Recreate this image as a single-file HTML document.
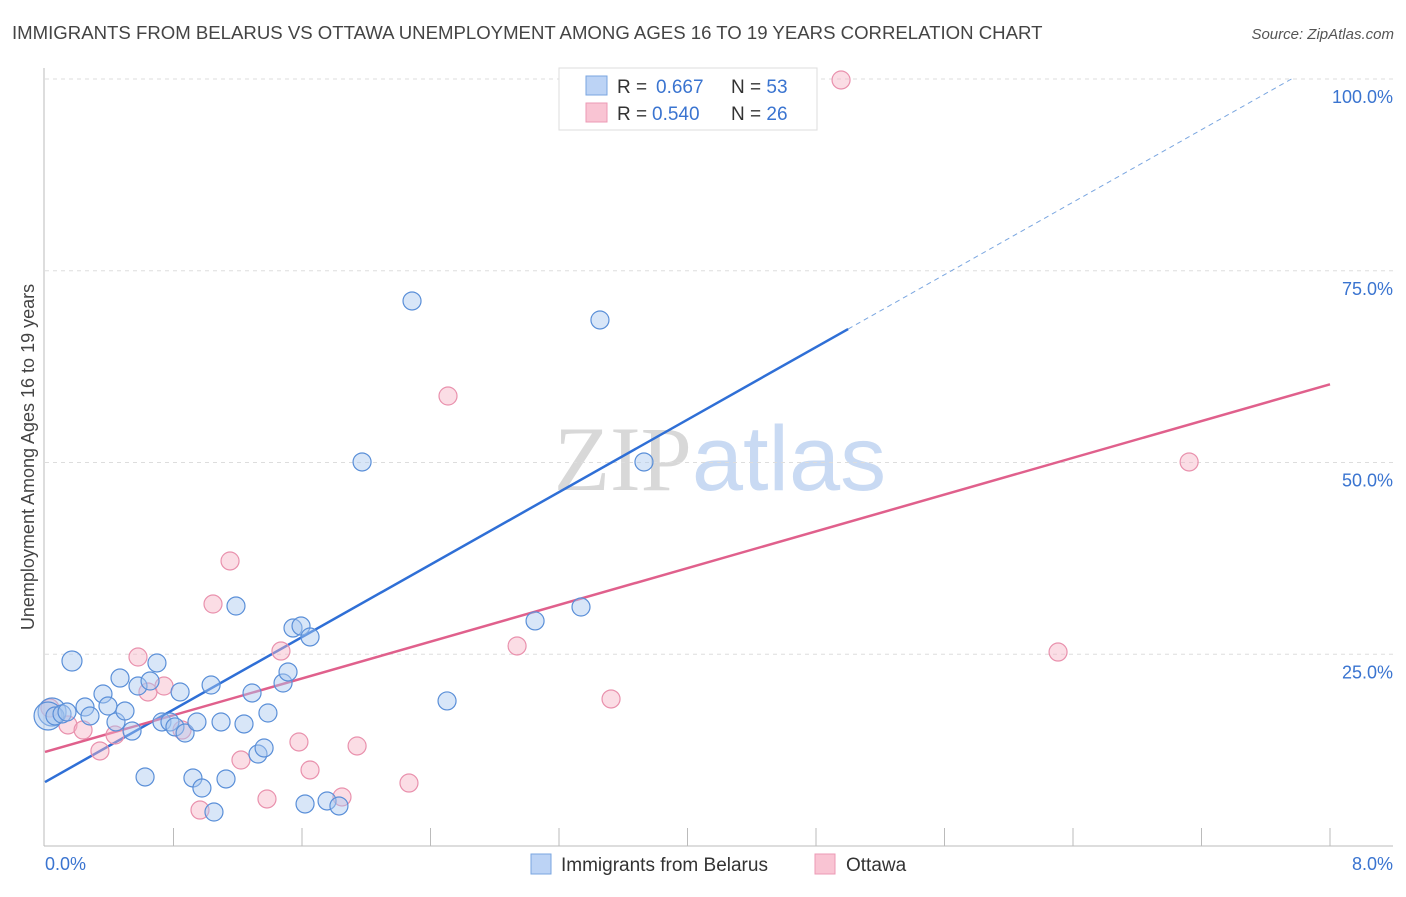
<!DOCTYPE html>
<html><head><meta charset="utf-8"><style>
body{margin:0;background:#fff;font-family:"Liberation Sans",sans-serif}
svg text{font-family:"Liberation Sans",sans-serif}
</style></head><body>
<svg id="c" width="1406" height="892" xmlns="http://www.w3.org/2000/svg">
<text x="12" y="39" font-size="18.6" fill="#444">IMMIGRANTS FROM BELARUS VS OTTAWA UNEMPLOYMENT AMONG AGES 16 TO 19 YEARS CORRELATION CHART</text>
<text x="1394" y="39" font-size="15" fill="#555" text-anchor="end" font-style="italic">Source: ZipAtlas.com</text>
<text x="720" y="490" font-size="92" text-anchor="middle"><tspan font-family="Liberation Serif" fill="#d8d8d8">ZIP</tspan><tspan fill="#c9daf3">atlas</tspan></text>
<text transform="translate(34,457) rotate(-90)" font-size="18" fill="#444" text-anchor="middle">Unemployment Among Ages 16 to 19 years</text>
<g id="grid"></g><g id="lines"></g><g id="pts"></g>
<g>
<rect x="559" y="68" width="258" height="62" fill="#fff" stroke="#ddd"/>
<rect x="586" y="76" width="21" height="19" fill="#bcd3f5" stroke="#7aa6e0"/>
<rect x="586" y="103" width="21" height="19" fill="#f9c4d3" stroke="#ec9ab4"/>
<text x="617" y="93" font-size="19" fill="#333">R = <tspan x="656" fill="#3a74d0">0.667</tspan><tspan x="731">N = </tspan><tspan fill="#3a74d0">53</tspan></text>
<text x="617" y="120" font-size="19" fill="#333">R = <tspan x="652" fill="#3a74d0">0.540</tspan><tspan x="731">N = </tspan><tspan fill="#3a74d0">26</tspan></text>
</g>
<g>
<rect x="531" y="854" width="20" height="20" fill="#bcd3f5" stroke="#7aa6e0"/>
<text x="561" y="871" font-size="19" fill="#333">Immigrants from Belarus</text>
<rect x="815" y="854" width="20" height="20" fill="#f9c4d3" stroke="#ec9ab4"/>
<text x="846" y="871" font-size="19" fill="#333">Ottawa</text>
</g>
</svg>
<script>
const xTickLabels=["0.0%","8.0%"];
const yTicks=[25,50,75,100];
const blueX=[0.044,0.019,0.062,0.106,0.168,0.137,0.249,0.280,0.361,0.392,0.442,0.467,0.498,0.542,0.579,0.623,0.654,0.697,0.728,0.778,0.809,0.841,0.872,0.921,0.946,0.977,1.034,1.052,1.096,1.127,1.189,1.239,1.289,1.326,1.364,1.388,1.482,1.513,1.544,1.594,1.619,1.650,1.756,1.830,1.974,2.285,2.503,3.051,3.337,3.455,3.729,4.340];
const blueY=[17.47,16.95,16.95,17.21,24.12,17.47,18.12,16.95,19.82,18.25,16.17,21.90,17.60,14.99,20.86,9.00,21.51,23.86,16.17,16.17,15.52,20.08,14.73,8.87,16.17,7.56,20.99,4.43,16.17,8.74,31.29,15.91,19.95,11.99,12.78,17.34,21.25,22.69,28.42,28.68,5.48,27.25,5.87,5.22,50.07,71.06,18.91,29.34,31.16,68.58,50.07,99.87];
const blueR=[14,14,9,9,10,9,9,9,9,9,9,9,9,9,9,9,9,9,9,9,9,9,9,9,9,9,9,9,9,9,9,9,9,9,9,9,9,9,9,9,9,9,9,9,9,9,9,9,9,9,9,9];
const pinkX=[0.031,0.143,0.237,0.342,0.436,0.579,0.641,0.741,0.853,0.965,1.046,1.152,1.220,1.382,1.469,1.581,1.650,1.849,1.943,2.266,2.509,2.939,3.524,4.956,6.307,7.123];
const pinkY=[17.99,15.78,15.12,12.39,14.47,24.64,20.08,20.86,15.12,4.69,31.55,37.16,11.21,6.13,25.42,13.56,9.91,6.39,13.04,8.21,58.67,26.08,19.17,99.87,25.29,50.07];
const blueTrend=[8.34,67.4];   // y at x=0 and x=5
const pinkTrend=[12.26,60.2];  // y at x=0 and x=8
const NS="http://www.w3.org/2000/svg";
const X=v=>45+v/8*1285, Y=v=>846-v*7.67;
function mk(tag,attrs,parent){const e=document.createElementNS(NS,tag);for(const k in attrs)e.setAttribute(k,attrs[k]);parent.appendChild(e);return e;}
const g=document.getElementById('grid');
yTicks.forEach(t=>{
 const l=mk('line',{x1:45,x2:1393,y1:Y(t),y2:Y(t),stroke:'#ddd','stroke-dasharray':'4,4'},g);
 
 
 const tx=mk('text',{x:1393,y:Y(t)+24,'font-size':18,fill:'#3a74d0','text-anchor':'end'},g);
 tx.textContent=t.toFixed(1)+'%';
 
 
});
const ax=mk('line',{x1:44,x2:44,y1:68,y2:846,stroke:'#bbb'},g);


const bx=mk('line',{x1:44,x2:1393,y1:846,y2:846,stroke:'#bbb'},g);


for(let i=1;i<=10;i++){const t=mk('line',{x1:X(i*0.8),x2:X(i*0.8),y1:828,y2:846,stroke:'#bbb'},g);
 
 }
[[0,'start',45],[1,'end',1393]].forEach(([i,a,x])=>{const t=mk('text',{x:x,y:870,'font-size':18,fill:'#3a74d0','text-anchor':a},g);t.textContent=xTickLabels[i];
 
 });
const p=document.getElementById('pts');
function pts(xs,ys,rs,fill,stroke,name){xs.forEach((x,i)=>{const c=mk('circle',{cx:X(x),cy:Y(ys[i]),r:rs?rs[i]:9,fill:fill,'fill-opacity':0.45,stroke:stroke,'stroke-width':1.2},p);
 
 });}
pts(pinkX,pinkY,null,'#f6b3c6','#e991ad','ottawa-point');
pts(blueX,blueY,blueR,'#a9c8f0','#5a8fd8','belarus-point');
const L=document.getElementById('lines');
const bs=(blueTrend[1]-blueTrend[0])/5;
const b1=mk('line',{x1:X(0),y1:Y(blueTrend[0]),x2:X(5),y2:Y(blueTrend[1]),stroke:'#2f6fd6','stroke-width':2.5},L);


const xe=(100-blueTrend[0])/bs;
const b2=mk('line',{x1:X(5),y1:Y(blueTrend[1]),x2:X(xe),y2:Y(100),stroke:'#7aa6e0','stroke-width':1,'stroke-dasharray':'5,4'},L);


const p1=mk('line',{x1:X(0),y1:Y(pinkTrend[0]),x2:X(8),y2:Y(pinkTrend[1]),stroke:'#e0608c','stroke-width':2.5},L);


</script>
</body></html>
